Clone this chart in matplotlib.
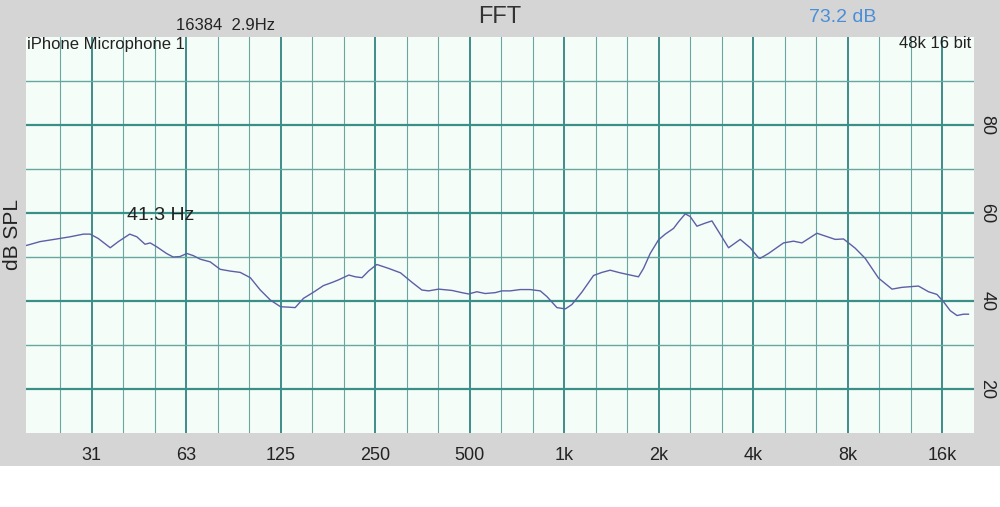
import numpy as np
import matplotlib
matplotlib.use("Agg")
import matplotlib.pyplot as plt
from matplotlib.patches import Rectangle
from matplotlib.ticker import NullFormatter

plt.rcParams['font.family'] = ['Liberation Sans', 'DejaVu Sans']

# spectrum (Hz, dB SPL)
freq = [19.3, 21.4, 24.2, 26.7, 29.4, 30.9, 32.8, 35.8, 38.0, 41.3, 43.5, 46.2, 48.0,
        50.4, 54.1, 56.8, 59.7, 62.8, 65.9, 69.3, 74.5, 80.2, 86.3, 92.9, 100, 107.6,
        115.9, 124.8, 132.5, 139, 147.7, 159, 171, 182, 191, 206, 216, 227, 238, 253,
        276, 301, 328, 352, 370, 398, 439, 472, 496, 527, 560, 603, 633, 673, 724, 779,
        839, 881, 948, 1008, 1058, 1138, 1240, 1319, 1401, 1508, 1623, 1724, 1789, 1879,
        1997, 2098, 2230, 2313, 2429, 2519, 2647, 2813, 2955, 3101, 3338, 3636, 3912,
        4158, 4210, 4475, 4996, 5376, 5716, 6382, 7299, 7758, 8451, 9093, 10030, 11070,
        11900, 13440, 14470, 15390, 16160, 16970, 17830, 18700, 19400]
level = [52.6, 53.5, 54.1, 54.6, 55.2, 55.2, 54.2, 52.1, 53.5, 55.2, 54.6, 52.9, 53.2,
         52.3, 50.8, 50.0, 50.1, 50.8, 50.3, 49.5, 48.9, 47.2, 46.8, 46.5, 45.3, 42.5,
         40.2, 38.7, 38.6, 38.5, 40.6, 42.0, 43.5, 44.2, 44.8, 45.9, 45.5, 45.3, 46.8, 48.3,
         47.4, 46.4, 44.2, 42.5, 42.3, 42.7, 42.4, 41.9, 41.6, 42.1, 41.7, 41.9, 42.3, 42.3,
         42.6, 42.6, 42.3, 41.0, 38.5, 38.2, 39.2, 42.0, 45.8, 46.5, 47.0, 46.4, 45.9, 45.5,
         47.4, 50.8, 53.9, 55.2, 56.5, 58.0, 59.8, 59.2, 57.0, 57.7, 58.2, 55.8, 52.1, 54.0,
         52.1, 49.8, 49.7, 50.8, 53.2, 53.6, 53.2, 55.4, 54.0, 54.1, 52.0, 49.7, 45.2, 42.7,
         43.1, 43.4, 42.1, 41.5, 39.8, 37.8, 36.7, 37.0, 37.0]

octaves = [31.25, 62.5, 125, 250, 500, 1000, 2000, 4000, 8000, 16000]
octave_labels = ['31', '63', '125', '250', '500', '1k', '2k', '4k', '8k', '16k']
thirds = [1000 * 2 ** (k / 3) for k in range(-16, 13) if k % 3 != 0]
db_major = [20, 40, 60, 80]
db_minor = [30, 50, 70, 90]

W, H = 1000, 507
fig = plt.figure(figsize=(W / 100, H / 100), dpi=100, facecolor='white')
fig.add_artist(Rectangle((0, (H - 466) / H), 1, 466 / H, transform=fig.transFigure,
                         facecolor='#d5d5d5', edgecolor='none', zorder=-10))

ax = fig.add_axes([26 / W, (H - 433) / H, 948 / W, 396 / H])
ax.set_facecolor('#f5fdf8')
ax.set_xscale('log')
ax.set_xlim(19.3, 20200)
ax.set_ylim(10, 100)

ax.set_xticks(octaves)
ax.set_xticklabels(octave_labels)
ax.set_xticks(thirds, minor=True)
ax.xaxis.set_minor_formatter(NullFormatter())
ax.set_yticks(db_major)
ax.set_yticks(db_minor, minor=True)

ax.grid(which='major', axis='x', color='#2f8480', lw=1.3)
ax.grid(which='minor', axis='x', color='#6aa6a1', lw=0.8)
ax.grid(which='major', axis='y', color='#3a8f88', lw=1.6)
ax.grid(which='minor', axis='y', color='#66a7a0', lw=1.0)
ax.set_axisbelow(True)

ax.tick_params(which='both', length=0)
ax.tick_params(axis='x', labelsize=13, pad=10, labelcolor='#222222')
ax.yaxis.tick_right()
ax.tick_params(axis='y', labelsize=13, pad=3, labelrotation=-90, labelcolor='#222222')
for lab in ax.get_yticklabels():
    lab.set_va('center')
for s in ax.spines.values():
    s.set_visible(False)

ax.plot(freq, level, color='#5c5fa6', lw=1.0)


def ftext(x, y, s, **kw):
    fig.text(x / W, 1 - y / H, s, **kw)


ftext(500, 17, 'FFT', fontsize=17, ha='center', va='center', color='#333333')
ftext(225, 25, '16384  2.9Hz', fontsize=12, ha='center', va='center', color='#222222')
ftext(843, 18, '73.2 dB', fontsize=14, ha='center', va='center', color='#4a8ed8')
ftext(27, 44, 'iPhone Microphone 1', fontsize=12, ha='left', va='center', color='#222222')
ftext(971, 44, '48k 16 bit', fontsize=12, ha='right', va='center', color='#222222')
ftext(161, 216, '41.3 Hz', fontsize=14, ha='center', va='center', color='#222222')
ftext(13, 234, 'dB SPL', fontsize=15, ha='center', va='center', rotation=90, color='#222222')

fig.savefig('out.png', dpi=100, facecolor=fig.get_facecolor())
